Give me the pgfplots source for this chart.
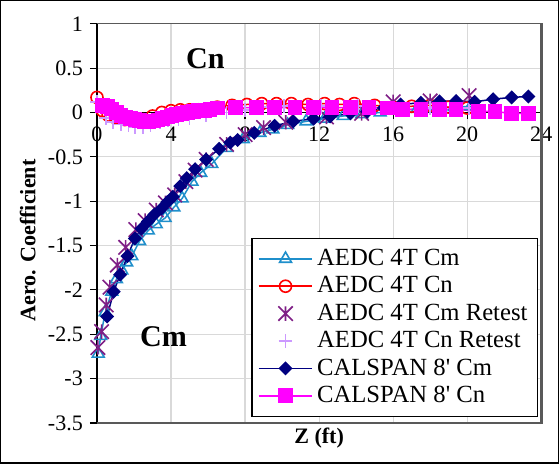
\documentclass[border=0pt]{standalone}
\usepackage{pgfplots}
\pgfplotsset{compat=1.18}
\usepackage{fontspec}
\setmainfont{Liberation Serif}
\newfontfamily\plainserif{Liberation Serif}

\definecolor{aedcm}{HTML}{1F8FCB}
\definecolor{aedcn}{HTML}{FF0000}
\definecolor{retcm}{HTML}{7F1F86}
\definecolor{retcn}{HTML}{CC99FF}
\definecolor{calcm}{HTML}{000080}
\definecolor{calcn}{HTML}{FF00FF}
\definecolor{gridgray}{HTML}{D9D9D9}
\definecolor{framegray}{HTML}{595959}

% asterisk made of an X and a vertical bar
\pgfdeclareplotmark{xstar}{%
  \pgfpathmoveto{\pgfqpoint{-\pgfplotmarksize}{-\pgfplotmarksize}}%
  \pgfpathlineto{\pgfqpoint{\pgfplotmarksize}{\pgfplotmarksize}}%
  \pgfpathmoveto{\pgfqpoint{-\pgfplotmarksize}{\pgfplotmarksize}}%
  \pgfpathlineto{\pgfqpoint{\pgfplotmarksize}{-\pgfplotmarksize}}%
  \pgfpathmoveto{\pgfqpoint{0pt}{-\pgfplotmarksize}}%
  \pgfpathlineto{\pgfqpoint{0pt}{\pgfplotmarksize}}%
  \pgfusepathqstroke}

% straight foot mark (no TeX ligature mapping in this family)
\newcommand{\ft}{{\plainserif'}}

\begin{document}
\begin{tikzpicture}
% outer chart border
\draw[black, line width=0.7pt] (-48pt,-20pt) rectangle (230pt,210.5pt);
\begin{axis}[
  scale only axis,
  width=221.5pt, height=199pt,
  xmin=0, xmax=24, ymin=-3.5, ymax=1,
  axis x line=middle, axis y line=left,
  axis line style={black, line width=0.6pt, -},
  hide obscured x ticks=false, hide obscured y ticks=false,
  xtick={0,4,...,24},
  ytick={-3.5,-3,...,1},
  tick align=outside,
  major tick length=3.5pt,
  tick style={black, line width=0.6pt},
  grid=major,
  grid style={gridgray, line width=0.6pt},
  clip=false,
  /pgf/number format/assume math mode=true,
  xticklabel={\pgfmathprintnumber{\tick}},
  yticklabel={\pgfmathprintnumber{\tick}},
  tick label style={font=\fontsize{11}{13}\selectfont},
  xlabel={\textbf{Z (ft)}},
  ylabel={\textbf{Aero. Coefficient}},
  every axis x label/.style={at={(axis description cs:0.5,-0.038)}, anchor=center, font=\fontsize{11}{13}\selectfont},
  every axis y label/.style={at={(axis description cs:-0.156,0.457)}, anchor=center, rotate=90, font=\fontsize{11}{13}\selectfont},
  legend style={at={(axis description cs:0.993,0.015)}, anchor=south east,
    draw=black, line width=0.6pt, fill=white,
    font=\fontsize{12.3}{14.8}\selectfont,
    inner xsep=3pt, inner ysep=3.4pt,
    row sep=0pt,
    cells={anchor=west}},
  legend image code/.code={%
    \draw[mark repeat=2, mark phase=2, #1] plot coordinates {(0cm,0cm) (0.47cm,0cm) (0.94cm,0cm)};},
]
% plot area frame
\draw[framegray, line width=0.7pt] (rel axis cs:0,1) -- (rel axis cs:1,1);
\draw[framegray, line width=0.7pt] (rel axis cs:0,0) -- (rel axis cs:1,0);
\draw[framegray, line width=1.3pt] (rel axis cs:1,-0.003) -- (rel axis cs:1,1.003);

% AEDC 4T Cm
\addplot[color=aedcm, line width=0.75pt, mark=triangle, mark size=3.4pt, mark options={solid, line width=0.8pt}]
coordinates {
(0.07,-2.72) (0.2,-2.52) (0.45,-2.25) (0.8,-2.02) (1.05,-1.88) (1.34,-1.78)
(1.6,-1.69) (1.88,-1.62) (2.3,-1.45) (2.77,-1.33) (3.2,-1.26) (3.68,-1.19)
(4.15,-1.07) (4.6,-0.97) (5.13,-0.78) (5.6,-0.68) (6.2,-0.58) (7.0,-0.40)
(7.9,-0.30) (8.8,-0.23) (9.5,-0.19) (10.3,-0.14) (11.3,-0.10) (12.3,-0.07)
(13.3,-0.04) (14.3,-0.02) (15.3,0.0) (16.3,0.02) (17.3,0.04) (18.3,0.05)
(19.3,0.06) (20.2,0.07)
};
\addlegendentry{AEDC 4T Cm}

% AEDC 4T Cn
\addplot[color=aedcn, line width=0.75pt, mark=o, mark size=3pt, mark options={solid, line width=0.8pt}]
coordinates {
(0.0,0.17) (0.3,0.02) (0.6,-0.03) (1.0,-0.06) (1.5,-0.08) (2.0,-0.09)
(2.5,-0.08) (3.0,-0.04) (3.5,0.0) (4.0,0.02) (4.5,0.03) (5.0,0.03)
(5.5,0.03) (6.0,0.04) (6.5,0.06) (7.3,0.08) (8.1,0.09) (8.9,0.10)
(9.7,0.10) (10.5,0.10) (11.4,0.09) (12.3,0.10) (13.1,0.09) (13.9,0.10)
(15.0,0.08) (16.0,0.06) (17.0,0.07) (18.0,0.08) (19.0,0.06) (20.0,0.05)
};
\addlegendentry{AEDC 4T Cn}

% AEDC 4T Cm Retest
\addplot[color=retcm, only marks, mark=xstar, mark size=3.6pt, mark options={line width=0.8pt}]
coordinates {
(0.05,-2.65) (0.25,-2.47) (0.5,-2.17) (0.7,-1.97) (1.1,-1.72) (1.55,-1.52)
(2.1,-1.32) (2.6,-1.22) (3.2,-1.10) (3.7,-1.02) (4.2,-0.93) (4.8,-0.78)
(5.3,-0.65) (5.9,-0.53) (7.0,-0.36) (8.0,-0.25) (9.0,-0.17) (10.2,-0.11)
(12.4,-0.05) (14.3,-0.01) (16.0,0.12) (18.0,0.13) (20.1,0.19)
};
\addlegendentry{AEDC 4T Cm Retest}

% AEDC 4T Cn Retest
\addplot[color=retcn, only marks, mark=+, mark size=3.4pt, mark options={line width=0.8pt}]
coordinates {
(0.0,0.12) (0.5,-0.06) (0.87,-0.11) (1.3,-0.135) (1.7,-0.145) (2.05,-0.165)
(2.5,-0.165) (2.9,-0.145) (3.4,-0.11) (3.85,-0.09) (4.4,-0.07) (5.0,-0.06)
(5.9,-0.03) (7.0,0.0) (8.0,0.03) (9.0,0.06) (10.1,0.07) (12.1,0.07)
(14.1,0.07) (16.0,0.05) (18.0,0.05) (20.1,0.05)
};
\addlegendentry{AEDC 4T Cn Retest}

% CALSPAN 8' Cm
\addplot[color=calcm, line width=0.75pt, mark=square*, mark size=2.1pt, mark options={solid, rotate=45}]
coordinates {
(0.55,-2.30) (0.9,-2.02) (1.25,-1.83) (1.65,-1.62) (2.05,-1.42) (2.4,-1.31)
(2.75,-1.23) (3.1,-1.15) (3.5,-1.08) (3.8,-1.01) (4.1,-0.95) (4.5,-0.83)
(4.85,-0.74) (5.3,-0.64) (5.9,-0.53) (6.6,-0.41) (7.2,-0.34) (7.6,-0.31)
(8.5,-0.23) (9.6,-0.15) (10.6,-0.10) (11.7,-0.07) (12.6,-0.045) (13.7,-0.01)
(14.6,0.01) (15.5,0.05) (16.4,0.09) (17.5,0.11) (18.5,0.125) (19.4,0.13)
(20.4,0.12) (21.4,0.15) (22.4,0.17) (23.3,0.18)
};
\addlegendentry{CALSPAN 8\ft{} Cm}

% CALSPAN 8' Cn
\addplot[color=calcn, line width=0.75pt, mark=square*, mark size=3.3pt, mark options={solid}]
coordinates {
(0.3,0.08) (0.55,0.07) (0.8,0.04) (1.05,0.0) (1.3,-0.03) (1.55,-0.05)
(1.8,-0.065) (2.05,-0.08) (2.3,-0.09) (2.55,-0.10) (2.8,-0.10) (3.05,-0.095)
(3.3,-0.085) (3.55,-0.07) (3.8,-0.05) (4.05,-0.035) (4.3,-0.02) (4.6,-0.01)
(4.9,0.0) (5.2,0.01) (5.5,0.02) (5.8,0.025) (6.1,0.03) (6.5,0.05)
(7.5,0.055) (8.6,0.055) (9.6,0.055) (10.7,0.055) (11.7,0.055) (12.7,0.055)
(13.7,0.055) (14.7,0.055) (15.7,0.05) (16.5,0.035) (17.5,0.035) (18.5,0.035)
(19.4,0.035) (20.6,0.015) (21.5,0.01) (22.4,-0.01) (23.3,-0.01)
};
\addlegendentry{CALSPAN 8\ft{} Cn}

\node[font=\fontsize{15}{17}\selectfont\bfseries] at (axis cs:5.85,0.61) {Cn};
\node[font=\fontsize{15}{17}\selectfont\bfseries] at (axis cs:3.6,-2.53) {Cm};
\end{axis}
\end{tikzpicture}
\end{document}
